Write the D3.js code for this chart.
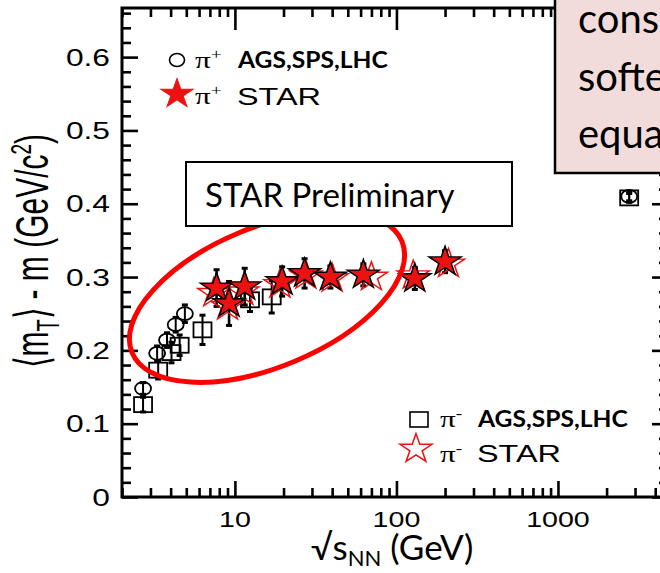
<!DOCTYPE html>
<html>
<head>
<meta charset="utf-8">
<script src="https://cdn.jsdelivr.net/npm/d3@7"></script>
<style>
  body { margin: 0; background: #fff; }
  svg { display: block; }
</style>
</head>
<body>
<svg id="chart" width="660" height="573"></svg>
<script>
// <mT> - m of pions versus collision energy (sqrt(s_NN), GeV)

// AGS / SPS / LHC pi+ (open circles)
const piPlusRefEnergy = [2.7, 3.3, 3.8, 4.3, 4.9, 2760];
const piPlusRefMt     = [0.148, 0.196, 0.214, 0.235, 0.250, 0.410];
const piPlusRefErr    = [0.008, 0.010, 0.010, 0.010, 0.012, 0.006];

// AGS / SPS / LHC pi- (open squares)
const piMinusRefEnergy = [2.7, 3.35, 4.05, 4.55, 6.3, 12.4, 16.9, 2760];
const piMinusRefMt     = [0.126, 0.173, 0.197, 0.207, 0.228, 0.269, 0.273, 0.408];
const piMinusRefErr    = [0.010, 0.012, 0.014, 0.014, 0.020, 0.016, 0.022, 0.006];

// STAR pi+ (filled stars)
const piPlusStarEnergy = [7.7, 9.2, 11.5, 19.6, 27, 39, 62.4, 130, 200];
const piPlusStarMt     = [0.285, 0.264, 0.287, 0.294, 0.305, 0.300, 0.303, 0.298, 0.321];
const piPlusStarErr    = [0.025, 0.030, 0.025, 0.020, 0.020, 0.015, 0.015, 0.015, 0.015];

// STAR pi- (open stars)
const piMinusStarEnergy = [7.4, 9.0, 11.2, 19.0, 27.5, 40, 70, 127, 210];
const piMinusStarMt     = [0.278, 0.260, 0.280, 0.290, 0.302, 0.298, 0.300, 0.302, 0.318];

const yTickValues = [0, 0.1, 0.2, 0.3, 0.4, 0.5, 0.6];
const yTickLabels = ["0", "0.1", "0.2", "0.3", "0.4", "0.5", "0.6"];
const xTickValues = [10, 100, 1000];
const xTickLabels = ["10", "100", "1000"];

const svg = d3.select("#chart");
const W = 660, H = 573;
const plot = { left: 122, top: 8, right: 668, bottom: 497 };

const x = d3.scaleLog().domain([2, 4800]).range([plot.left, plot.right]);
const y = d3.scaleLinear().domain([0, 0.667]).range([plot.bottom, plot.top]);

const FIG_FONT = "'Liberation Sans', Arial, Helvetica, sans-serif";
const SERIF = "'Liberation Serif', 'Times New Roman', serif";
const SLIDE_FONT = "Lato, 'Open Sans', sans-serif";
const SX = 1.38; // the figure's lettering is drawn a little wide

svg.append("rect").attr("width", W).attr("height", H).attr("fill", "#fff");

// ---------- axes ----------
const majorLen = 16, minorLen = 9;
const xMajor = xTickValues;
const xMinor = x.ticks().filter(v => !xMajor.includes(v));
const yMajor = yTickValues;
const yMinor = d3.range(0.02, 0.667, 0.02).filter(v => Math.abs(v * 10 - Math.round(v * 10)) > 1e-6);

function tickAxis(axisFn, scale, values, len, transform) {
  const g = svg.append("g").attr("transform", transform)
    .call(axisFn(scale).tickValues(values).tickSizeInner(-len).tickSizeOuter(0).tickFormat(""));
  g.select(".domain").remove();
  g.selectAll(".tick line").attr("stroke", "#000").attr("stroke-width", 2.6);
  return g;
}
// bottom & top
tickAxis(d3.axisBottom, x, xMajor, majorLen, `translate(0,${plot.bottom})`);
tickAxis(d3.axisBottom, x, xMinor, minorLen, `translate(0,${plot.bottom})`);
tickAxis(d3.axisTop, x, xMajor, majorLen + 6, `translate(0,${plot.top})`);
tickAxis(d3.axisTop, x, xMinor, minorLen, `translate(0,${plot.top})`);
// left & right
tickAxis(d3.axisLeft, y, yMajor, majorLen, `translate(${plot.left},0)`);
tickAxis(d3.axisLeft, y, yMinor, minorLen, `translate(${plot.left},0)`);
tickAxis(d3.axisRight, y, yMajor, majorLen, `translate(${plot.right},0)`);
tickAxis(d3.axisRight, y, yMinor, minorLen, `translate(${plot.right},0)`);

svg.append("rect")
  .attr("x", plot.left).attr("y", plot.top)
  .attr("width", plot.right - plot.left).attr("height", plot.bottom - plot.top)
  .attr("fill", "none").attr("stroke", "#000").attr("stroke-width", 3);

// wide text helper
function wideText(px, py, str, size, opts = {}) {
  const t = svg.append("text")
    .attr("transform", `translate(${px},${py}) scale(${opts.sx || SX},1)` + (opts.rotate ? ` rotate(${opts.rotate})` : ""))
    .attr("font-family", opts.family || FIG_FONT)
    .attr("font-size", size)
    .attr("font-weight", opts.weight || "normal")
    .attr("text-anchor", opts.anchor || "start")
    .attr("fill", opts.fill || "#000");
  if (str !== null) t.text(str);
  return t;
}

// tick labels
yTickValues.forEach((v, i) => wideText(110, y(v) + 8.5, yTickLabels[i], 23, { anchor: "end" }));
xTickValues.forEach((v, i) => wideText(x(v), 527, xTickLabels[i], 22, { anchor: "middle", sx: 1.3 }));

// y title
const yt = wideText(48, 251, null, 30, { anchor: "middle", rotate: -90, sx: 1.55 });
yt.append("tspan").text("\u27E8m");
yt.append("tspan").attr("font-size", 20).attr("dy", 7).text("T");
yt.append("tspan").attr("dy", -7).text("\u27E9 - m (GeV/c");
yt.append("tspan").attr("font-size", 19).attr("dy", -11).text("2");
yt.append("tspan").attr("dy", 11).text(")");

// x title
const xt = svg.append("text").attr("x", 392).attr("y", 560)
  .attr("font-family", SLIDE_FONT).attr("font-size", 35).attr("text-anchor", "middle");
xt.append("tspan").text("\u221As");
xt.append("tspan").attr("font-size", 22).attr("dy", 6).text("NN");
xt.append("tspan").attr("dy", -6).text(" (GeV)");

// ---------- data ----------
const STAR_RED = "#ee1111";
const starSym = d3.symbol().type(d3.symbolStar).size(265);

function errorBars(energy, mt, err, width, capW) {
  const g = svg.append("g").attr("stroke", "#000");
  energy.forEach((e, i) => {
    const cx = x(e), y0 = y(mt[i] - err[i]), y1 = y(mt[i] + err[i]);
    g.append("line").attr("x1", cx).attr("x2", cx).attr("y1", y0).attr("y2", y1).attr("stroke-width", width);
    [y0, y1].forEach(yy => g.append("line")
      .attr("x1", cx - capW / 2).attr("x2", cx + capW / 2).attr("y1", yy).attr("y2", yy)
      .attr("stroke-width", 3));
  });
}

// reference data: squares & circles
errorBars(piMinusRefEnergy, piMinusRefMt, piMinusRefErr, 2, 6);
errorBars(piPlusRefEnergy, piPlusRefMt, piPlusRefErr, 2, 6);

svg.append("g").selectAll("rect").data(piMinusRefEnergy).join("rect")
  .attr("x", d => x(d) - 9).attr("y", (d, i) => y(piMinusRefMt[i]) - 7.5)
  .attr("width", 18).attr("height", 15)
  .attr("fill", "none").attr("stroke", "#000").attr("stroke-width", 1.8);

svg.append("g").selectAll("ellipse").data(piPlusRefEnergy).join("ellipse")
  .attr("cx", d => x(d)).attr("cy", (d, i) => y(piPlusRefMt[i]))
  .attr("rx", 8).attr("ry", 6.5)
  .attr("fill", "none").attr("stroke", "#000").attr("stroke-width", 1.8);

// STAR
errorBars(piPlusStarEnergy, piPlusStarMt, piPlusStarErr, 2.6, 6);

svg.append("g").selectAll("path").data(piMinusStarEnergy).join("path")
  .attr("d", starSym)
  .attr("transform", (d, i) => `translate(${x(d)},${y(piMinusStarMt[i])}) scale(1.1,1)`)
  .attr("fill", "none").attr("stroke", STAR_RED).attr("stroke-width", 1.4);

svg.append("g").selectAll("path").data(piPlusStarEnergy).join("path")
  .attr("d", starSym)
  .attr("transform", (d, i) => `translate(${x(d)},${y(piPlusStarMt[i])}) scale(1.1,1)`)
  .attr("fill", STAR_RED).attr("stroke", "#000").attr("stroke-width", 1.4);

// ---------- legends ----------
function piLabel(px, py, sign) {
  const t = wideText(px, py, null, 24, { family: SERIF, sx: 1.3 });
  t.append("tspan").text("\u03C0");
  t.append("tspan").attr("font-size", 15).attr("dy", -9).text(sign);
}
// upper
svg.append("ellipse").attr("cx", 177).attr("cy", 60).attr("rx", 7.5).attr("ry", 6.5)
  .attr("fill", "none").attr("stroke", "#000").attr("stroke-width", 1.6);
piLabel(195, 68, "+");
wideText(238, 68, "AGS,SPS,LHC", 22, { family: SLIDE_FONT, weight: "bold", sx: 1.12 });

svg.append("path").attr("d", starSym).attr("transform", "translate(177,94) scale(1.1,1)")
  .attr("fill", STAR_RED).attr("stroke", STAR_RED).attr("stroke-width", 1);
piLabel(195, 104, "+");
wideText(237, 105, "STAR", 24, { sx: 1.35 });

// lower
svg.append("rect").attr("x", 410).attr("y", 412).attr("width", 18).attr("height", 15)
  .attr("fill", "none").attr("stroke", "#000").attr("stroke-width", 1.6);
piLabel(440, 427, "-");
wideText(478, 427, "AGS,SPS,LHC", 22, { family: SLIDE_FONT, weight: "bold", sx: 1.12 });

svg.append("path").attr("d", starSym).attr("transform", "translate(416,449) scale(1.1,1)")
  .attr("fill", "#fff").attr("stroke", STAR_RED).attr("stroke-width", 1.4);
piLabel(440, 462, "-");
wideText(477, 462, "STAR", 24, { sx: 1.35 });

// ---------- annotations ----------
svg.append("ellipse")
  .attr("transform", "translate(267,297) rotate(-22.4)")
  .attr("rx", 146).attr("ry", 70)
  .attr("fill", "none").attr("stroke", "#ff0000").attr("stroke-width", 5);

svg.append("rect").attr("x", 186).attr("y", 162).attr("width", 326).attr("height", 64)
  .attr("fill", "#fff").attr("stroke", "#000").attr("stroke-width", 2);
svg.append("text").attr("x", 205).attr("y", 207)
  .attr("font-family", SLIDE_FONT).attr("font-size", 33).text("STAR Preliminary");

svg.append("rect").attr("x", 555).attr("y", -10).attr("width", 200).attr("height", 183)
  .attr("fill", "#f2dcdb").attr("stroke", "#000").attr("stroke-width", 2.5);
const note = svg.append("text").attr("font-family", SLIDE_FONT).attr("font-size", 40);
["consistent with", "softening of", "equation of state"].forEach((line, i) =>
  note.append("tspan").attr("x", 578).attr("y", 33 + i * 57.5).text(line));
</script>
</body>
</html>
